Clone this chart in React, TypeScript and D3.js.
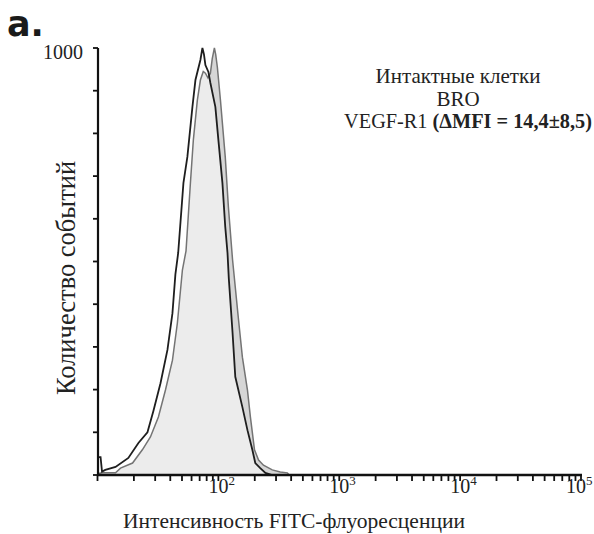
import React from "react";
import * as d3 from "d3";

// black outline histogram (control)
const controlIntensity = [10.0, 10.6, 10.9, 11.6, 14.1, 18.0, 21.8, 25.9, 29.0, 33.2, 37.9, 41.7, 44.1, 46.5, 51.4, 55.4, 61.0, 64.6, 71.0, 73.8, 76.0, 78.1, 82.7, 85.9, 94.4, 100, 108, 114, 119, 122, 131, 138, 158, 174, 191, 202, 222, 245, 279];
const controlCounts = [42, 42, 8, 12, 19, 40, 75, 100, 150, 215, 293, 379, 470, 520, 684, 745, 862, 925, 972, 1000, 985, 960, 944, 918, 862, 785, 684, 581, 520, 460, 333, 230, 159, 105, 59, 28, 16, 5, 0];

// grey filled histogram (VEGF-R1)
const stainedIntensity = [10.0, 11.0, 14.1, 15.5, 19.5, 23.5, 27.4, 31.9, 36.5, 41.7, 45.8, 50.4, 54.0, 58.7, 62.1, 67.0, 71.0, 75.0, 78.1, 82.0, 85.9, 89.0, 92.7, 95.0, 98.1, 104, 114, 121, 131, 146, 158, 174, 184, 199, 215, 236, 279, 325, 372, 385];
const stainedCounts = [3, 5, 5, 16, 28, 59, 89, 136, 199, 269, 356, 480, 525, 684, 785, 878, 925, 945, 941, 930, 941, 975, 1000, 985, 955, 878, 745, 628, 504, 370, 276, 199, 136, 59, 35, 23, 12, 7, 5, 0];

const yTicks = [0, 100, 200, 300, 400, 500, 600, 700, 800, 900, 1000];
const decadeLabels = [
  { value: 100, exp: "2" },
  { value: 1000, exp: "3" },
  { value: 10000, exp: "4" },
  { value: 100000, exp: "5" },
];
const annotation = ["Интактные клетки", "BRO"];

const serif = "'Liberation Serif', 'Times New Roman', serif";

export default function App() {
  const x = d3.scaleLog().domain([10, 100000]).range([97.5, 581]);
  const y = d3.scaleLinear().domain([0, 1000]).range([475, 48]);

  const xTicks: number[] = [];
  for (let d = 10; d < 100000; d *= 10) {
    for (let k = 1; k < 10; k++) xTicks.push(d * k);
  }
  xTicks.push(100000);

  const toPts = (xs: number[], ys: number[]) => xs.map((v, i) => [v, ys[i]] as [number, number]);

  const area = d3
    .area<[number, number]>()
    .x((d) => x(d[0]))
    .y0(y(0))
    .y1((d) => y(d[1]));
  const line = d3
    .line<[number, number]>()
    .x((d) => x(d[0]))
    .y((d) => y(d[1]));

  const ctrl = toPts(controlIntensity, controlCounts);
  const stained = toPts(stainedIntensity, stainedCounts);

  return (
    <svg width={594} height={534} style={{ position: "absolute", left: 0, top: 0, background: "#fff" }}>
      <text x={7} y={36} fontFamily="'DejaVu Sans', sans-serif" fontWeight="bold" fontSize={35} fill="#1a1a1a">
        a.
      </text>

      <defs>
        <clipPath id="plot">
          <rect x={98} y={30} width={490} height={446} />
        </clipPath>
      </defs>

      <g clipPath="url(#plot)">
        <path d={area(stained) || ""} fill="#d6d6d6" />
        <path d={area(ctrl) || ""} fill="#fff" fillOpacity={0.55} />
        <path d={line(stained) || ""} fill="none" stroke="#747474" strokeWidth={1.5} />
        <path d={line(ctrl) || ""} fill="none" stroke="#1e1e1e" strokeWidth={1.8} />
      </g>

      {/* y axis */}
      <line x1={98} x2={98} y1={y(1000)} y2={y(0)} stroke="#111" strokeWidth={2.2} />
      {yTicks.map((t) => (
        <line key={t} x1={93} x2={98} y1={y(t)} y2={y(t)} stroke="#111" strokeWidth={1.8} />
      ))}
      <text x={83} y={59} textAnchor="end" fontFamily={serif} fontSize={20} fill="#222">
        1000
      </text>

      {/* x axis */}
      <line x1={97} x2={582} y1={y(0)} y2={y(0)} stroke="#111" strokeWidth={2.5} />
      {xTicks.map((t) => (
        <line key={t} x1={x(t)} x2={x(t)} y1={y(0)} y2={y(0) + 6} stroke="#111" strokeWidth={1.8} />
      ))}
      {decadeLabels.map((l) => (
        <text key={l.value} x={Math.min(x(l.value) - 10, 566)} y={493} fontFamily={serif} fontSize={20} fill="#222">
          10
          <tspan fontSize={13} dy={-8}>
            {l.exp}
          </tspan>
        </text>
      ))}

      <text x={294} y={528} textAnchor="middle" fontFamily={serif} fontSize={21.5} fill="#222">
        Интенсивность FITC-флуоресценции
      </text>
      <text
        transform="translate(75,278) rotate(-90)"
        textAnchor="middle"
        fontFamily={serif}
        fontSize={26.5}
        fill="#222"
      >
        Количество событий
      </text>

      {annotation.map((s, i) => (
        <text key={s} x={458} y={83 + i * 22.5} textAnchor="middle" fontFamily={serif} fontSize={21} fill="#222">
          {s}
        </text>
      ))}
      <text x={468} y={128} textAnchor="middle" fontFamily={serif} fontSize={20.3} fill="#222">
        VEGF-R1 <tspan fontWeight="bold">(ΔMFI = 14,4±8,5)</tspan>
      </text>
    </svg>
  );
}
